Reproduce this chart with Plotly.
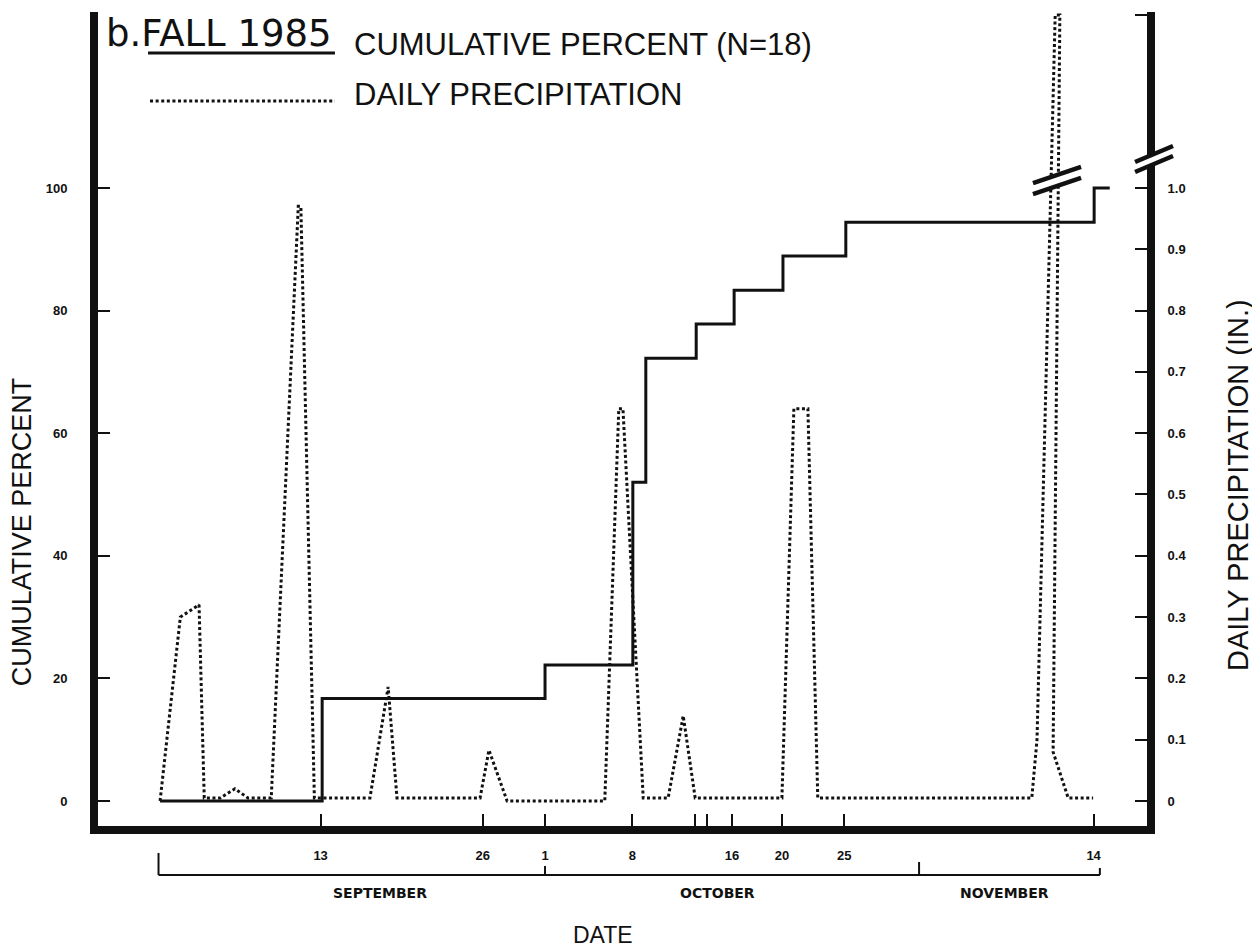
import plotly.graph_objects as go

# ---------------- data ----------------
cum_dates = ["1985-08-31 03:00", "1985-09-13 03:00", "1985-10-01 00:00", "1985-10-08 01:00",
             "1985-10-09 02:00", "1985-10-13 03:00", "1985-10-16 04:00", "1985-10-20 02:00",
             "1985-10-25 03:00", "1985-11-14 01:00", "1985-11-15 07:00"]
cum_percent = [0, 16.7, 22.2, 52.0, 72.2, 77.8, 83.3, 88.9, 94.4, 100, 100]

precip_dates = ["1985-08-31 03:00", "1985-09-01 18:00", "1985-09-03 06:00", "1985-09-03 16:00",
                "1985-09-04 23:00", "1985-09-06 03:00", "1985-09-07 04:00", "1985-09-09 01:00",
                "1985-09-11 05:00", "1985-09-11 10:00", "1985-09-12 12:00", "1985-09-16 23:00",
                "1985-09-18 10:00", "1985-09-19 03:00", "1985-09-25 19:00", "1985-09-26 12:00",
                "1985-09-27 23:00", "1985-10-05 19:00", "1985-10-06 22:00", "1985-10-07 06:00",
                "1985-10-08 21:00", "1985-10-10 21:00", "1985-10-12 02:00", "1985-10-13 01:00",
                "1985-10-20 00:00", "1985-10-20 23:00", "1985-10-22 02:00", "1985-10-22 21:00",
                "1985-11-09 01:00", "1985-11-09 11:00", "1985-11-10 22:00", "1985-11-11 07:00",
                "1985-11-10 18:00", "1985-11-11 23:00", "1985-11-13 23:00"]
precip_inches = [0.0, 0.30, 0.32, 0.005,
                 0.005, 0.02, 0.005, 0.005,
                 0.97, 0.97, 0.005, 0.005,
                 0.186, 0.005, 0.005, 0.083,
                 0.0, 0.0, 0.64, 0.64,
                 0.005, 0.005, 0.139, 0.005,
                 0.005, 0.64, 0.64, 0.005,
                 0.005, 0.10, 1.88, 1.88,
                 0.08, 0.005, 0.005]

x_tick_dates = ["1985-09-13", "1985-09-26", "1985-10-01", "1985-10-08", "1985-10-13",
                "1985-10-14", "1985-10-16", "1985-10-20", "1985-10-25", "1985-11-14"]
x_tick_text = ["13", "26", "1", "8", "", "", "16", "20", "25", "14"]

left_ticks = [0, 20, 40, 60, 80, 100]
right_ticks = [0, 0.1, 0.2, 0.3, 0.4, 0.5, 0.6, 0.7, 0.8, 0.9, 1.0, 1.88]
right_tick_text = ["0", "0.1", "0.2", "0.3", "0.4", "0.5", "0.6", "0.7", "0.8", "0.9", "1.0", "1.88"]

month_names = ["SEPTEMBER", "OCTOBER", "NOVEMBER"]

# broken right axis: values above 1.0 are compressed
BREAK_AT = 1.0
ABOVE_BREAK_SCALE = 0.3205


def broken(v):
    return v if v <= BREAK_AT else BREAK_AT + (v - BREAK_AT) * ABOVE_BREAK_SCALE


INK = "#111111"
FONT = "Liberation Sans"
tickfont = dict(family=FONT, size=13, color=INK, weight="bold")
DOT = "3px,2.6px"

fig = go.Figure()
fig.add_trace(go.Scatter(x=cum_dates, y=cum_percent, mode="lines", line_shape="hv",
                         line=dict(color=INK, width=3), yaxis="y", name="CUMULATIVE PERCENT (N=18)"))
fig.add_trace(go.Scatter(x=precip_dates, y=[broken(v) for v in precip_inches], mode="lines",
                         line=dict(color=INK, width=3, dash=DOT), yaxis="y2",
                         name="DAILY PRECIPITATION"))

# page body has an 8px margin, so the figure is 8px smaller than the window on each axis
fig.update_layout(
    width=1252, height=941,
    margin=dict(l=90, r=113, t=4, b=123),
    paper_bgcolor="white", plot_bgcolor="white",
    showlegend=False,
    xaxis=dict(type="date", range=["1985-08-26 03:30", "1985-11-18 06:45"],
               tickmode="array", tickvals=x_tick_dates, ticktext=x_tick_text,
               ticks="inside", ticklen=12, tickwidth=2, tickcolor=INK,
               showline=True, linewidth=8, linecolor=INK,
               showgrid=False, zeroline=False, tickfont=tickfont, ticklabelstandoff=10),
    yaxis=dict(range=[-4.08, 128.7], tickmode="array", tickvals=left_ticks,
               ticks="inside", ticklen=12, tickwidth=2, tickcolor=INK,
               showline=True, linewidth=8, linecolor=INK,
               showgrid=False, zeroline=False, tickfont=tickfont, ticklabelstandoff=20),
    yaxis2=dict(range=[-0.0408, 1.287], overlaying="y", side="right", tickmode="array",
                tickvals=[broken(v) for v in right_ticks], ticktext=right_tick_text,
                ticks="inside", ticklen=12, tickwidth=2, tickcolor=INK,
                showline=True, linewidth=8, linecolor=INK,
                showgrid=False, zeroline=False, tickfont=tickfont, ticklabelstandoff=10),
)

shapes = []
# legend samples
shapes.append(dict(type="line", xref="paper", yref="paper", x0=0.0477, x1=0.2259, y0=0.9497, y1=0.9497,
                   line=dict(color=INK, width=3)))
shapes.append(dict(type="line", xref="paper", yref="paper", x0=0.0496, x1=0.2259, y0=0.8907, y1=0.8907,
                   line=dict(color=INK, width=3, dash=DOT)))

# month bracket below the axis
yb = -0.0602
shapes.append(dict(type="line", xref="x", yref="paper", x0="1985-08-31 00:00", x1="1985-11-14 12:00",
                   y0=yb, y1=yb, line=dict(color=INK, width=2)))
shapes.append(dict(type="line", xref="x", yref="paper", x0="1985-08-31 00:00", x1="1985-08-31 00:00",
                   y0=yb, y1=-0.0332, line=dict(color=INK, width=2)))
shapes.append(dict(type="line", xref="x", yref="paper", x0="1985-10-01", x1="1985-10-01",
                   y0=yb, y1=-0.0491, line=dict(color=INK, width=2)))
shapes.append(dict(type="line", xref="x", yref="paper", x0="1985-10-31", x1="1985-10-31",
                   y0=yb, y1=-0.0442, line=dict(color=INK, width=2)))
shapes.append(dict(type="line", xref="x", yref="paper", x0="1985-11-14 12:00", x1="1985-11-14 12:00",
                   y0=yb, y1=-0.0516, line=dict(color=INK, width=2)))


def break_mark(xa, xb, ya_up, yb_up, ya_lo, yb_lo):
    return [dict(type="path", xref="paper", yref="paper", layer="above",
                 path=f"M {xa},{ya_up} L {xb},{yb_up} L {xb},{yb_lo} L {xa},{ya_lo} Z",
                 fillcolor="white", line=dict(width=0)),
            dict(type="line", xref="paper", yref="paper", layer="above", x0=xa, x1=xb, y0=ya_up, y1=yb_up,
                 line=dict(color=INK, width=4.5)),
            dict(type="line", xref="paper", yref="paper", layer="above", x0=xa, x1=xb, y0=ya_lo, y1=yb_lo,
                 line=dict(color=INK, width=4.5))]


shapes += break_mark(0.9886, 1.0248, 0.8157, 0.8354, 0.8034, 0.8231)
shapes += break_mark(0.8913, 0.9371, 0.7899, 0.8096, 0.7764, 0.7961)

annotations = [
    dict(text="b.FALL 1985", xref="paper", yref="paper", x=0.006, y=1.003, xanchor="left", yanchor="top",
         showarrow=False, font=dict(family="DejaVu Sans", size=37, color=INK)),
    dict(text="CUMULATIVE PERCENT (N=18)", xref="paper", yref="paper", x=0.2421, y=0.9605,
         xanchor="left", yanchor="middle", showarrow=False, font=dict(family=FONT, size=31, color=INK)),
    dict(text="DAILY PRECIPITATION", xref="paper", yref="paper", x=0.2421, y=0.8985,
         xanchor="left", yanchor="middle", showarrow=False, font=dict(family=FONT, size=31, color=INK)),
    dict(text="CUMULATIVE PERCENT", xref="paper", yref="paper", x=-0.0725, y=0.362, textangle=-90,
         xanchor="center", yanchor="middle", showarrow=False, font=dict(family=FONT, size=27, color=INK)),
    dict(text="DAILY PRECIPITATION (IN.)", xref="paper", yref="paper", x=1.0868, y=0.419, textangle=-90,
         xanchor="center", yanchor="middle", showarrow=False, font=dict(family=FONT, size=29, color=INK)),
    dict(text="DATE", xref="paper", yref="paper", x=0.4814, y=-0.1339, xanchor="center", yanchor="middle",
         showarrow=False, font=dict(family=FONT, size=23, color=INK)),
]
for name, xp in zip(month_names, [0.2688, 0.5901, 0.8637]):
    annotations.append(dict(text=name, xref="paper", yref="paper", x=xp, y=-0.0823, xanchor="center",
                            yanchor="middle", showarrow=False,
                            font=dict(family="DejaVu Sans", size=14, color=INK, weight="bold")))

fig.update_layout(shapes=shapes, annotations=annotations)
fig.write_html("out.html")
